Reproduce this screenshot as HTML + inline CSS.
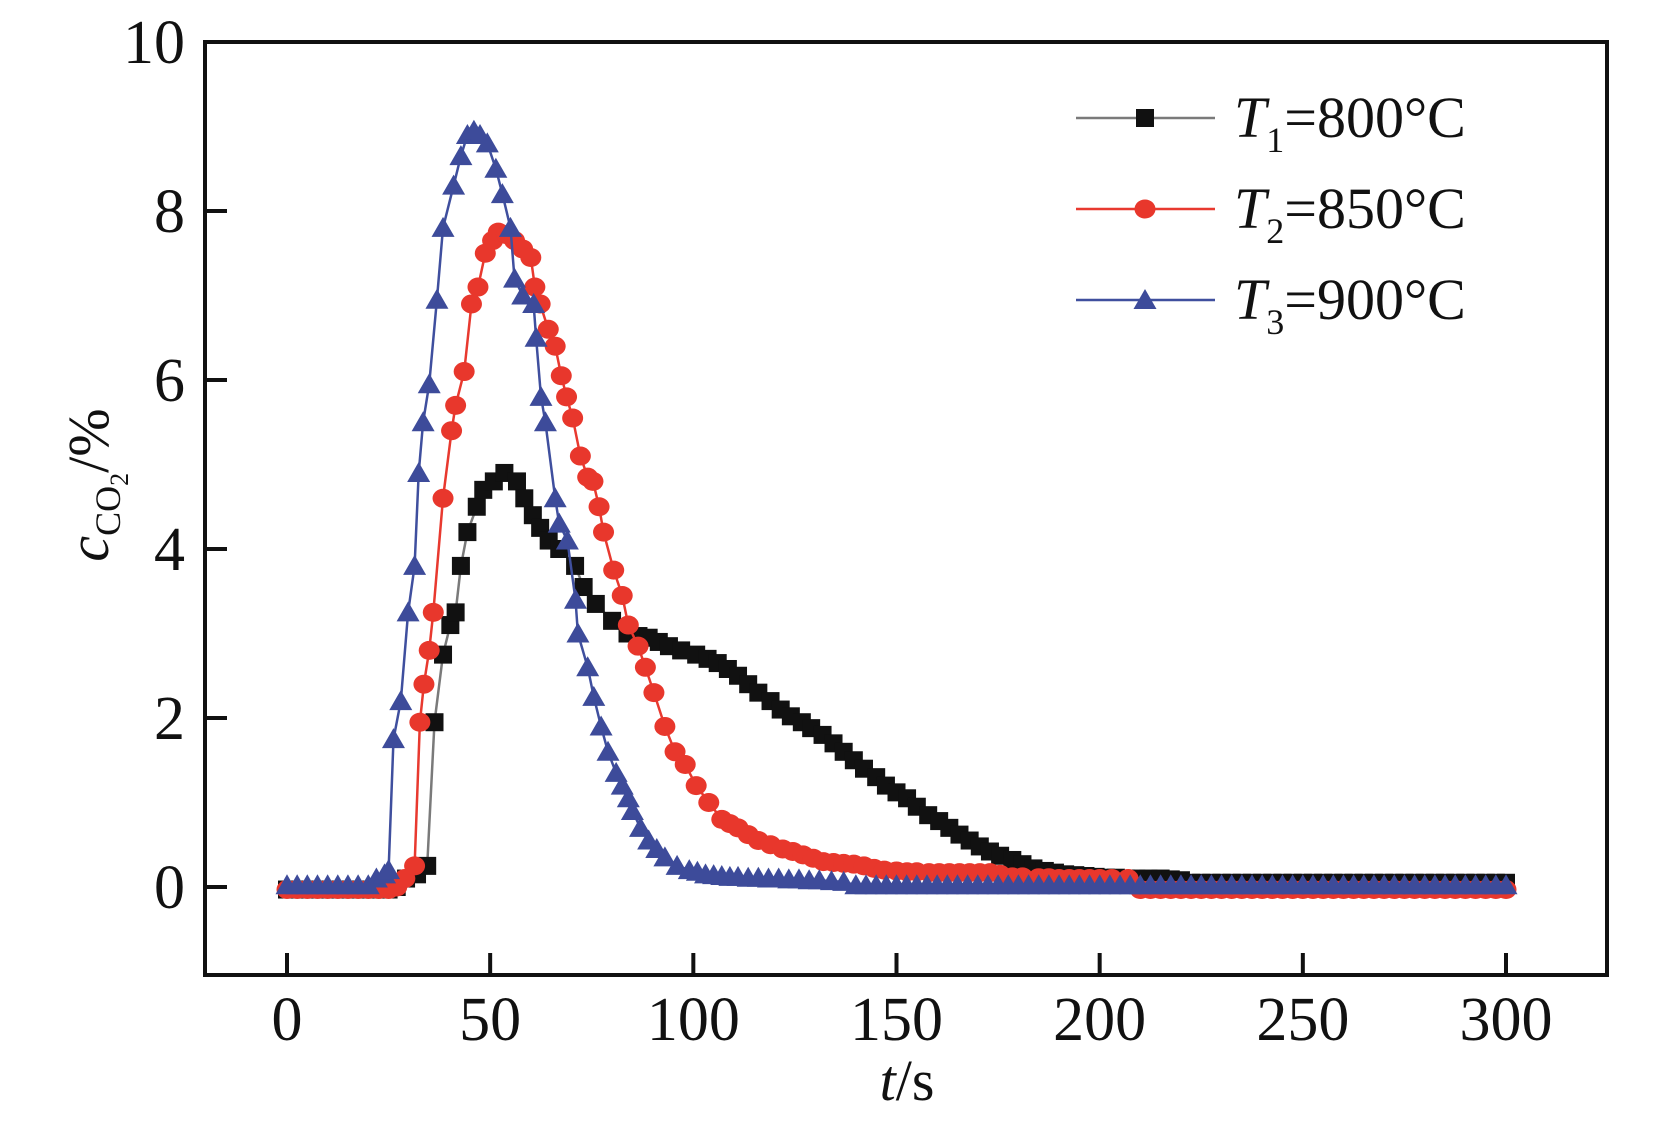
<!DOCTYPE html>
<html><head><meta charset="utf-8">
<style>
html,body{margin:0;padding:0;background:#fff;}
svg{display:block;font-family:"Liberation Serif",serif;}
</style></head>
<body>
<svg id="chart" width="1654" height="1148" viewBox="0 0 1654 1148" xmlns="http://www.w3.org/2000/svg">
<rect x="0" y="0" width="1654" height="1148" fill="#fff"/>
<g id="marks"></g>
<rect x="205" y="42" width="1402" height="933" fill="none" stroke="#111" stroke-width="4"/>
<g id="axes"></g>
<text x="907" y="1100" font-size="58" text-anchor="middle" fill="#111"><tspan font-style="italic">t</tspan>/s</text>
<text transform="translate(108,485) rotate(-90)" font-size="58" text-anchor="middle" fill="#111"><tspan font-style="italic">c</tspan><tspan font-size="36" dy="12">CO</tspan><tspan font-size="26" dy="8">2</tspan><tspan dy="-20">/%</tspan></text>
<g id="legend"></g>
</svg>
<script>
const xTicks=[0,50,100,150,200,250,300];
const yTicks=[0,2,4,6,8,10];
const t1Times=[0,2.5,5,7.5,10,12.5,15,17.5,20,22.5,25,27,29.3,32,34.5,36.3,38.4,40.2,41.5,42.8,44.4,46.7,48.3,50.9,53.5,56.6,58.4,60.5,62.3,64.4,67,70.9,73,76,80,83.8,86.5,89,91.5,94,97,100.7,103.5,106,108.5,111,113.5,116,119,121.5,124,126.7,129,131.8,134.5,137,139.5,142,145,147.4,150,152.6,155,157.8,160.5,163,165.5,168,170.5,173,175.5,178.5,181,183.7,186.5,189,191.5,194,196.5,199,201.5,204,206.5,209,212,215,217.5,220,222.5,225,227.5,230,232.5,235,237.5,240,242.5,245,247.5,250,252.5,255,257.5,260,262.5,265,267.5,270,272.5,275,277.5,280,282.5,285,287.5,290,292.5,295,297.5,300];
const t1Values=[-0.03,-0.03,-0.03,-0.03,-0.03,-0.03,-0.03,-0.03,-0.03,-0.03,-0.03,0.0,0.1,0.15,0.25,1.95,2.75,3.1,3.25,3.8,4.2,4.5,4.7,4.8,4.9,4.8,4.6,4.4,4.25,4.1,4.0,3.8,3.55,3.35,3.15,3.0,2.97,2.95,2.9,2.85,2.8,2.75,2.7,2.65,2.58,2.5,2.4,2.3,2.2,2.1,2.02,1.95,1.88,1.8,1.7,1.6,1.5,1.4,1.3,1.2,1.12,1.05,0.95,0.85,0.78,0.7,0.62,0.55,0.48,0.42,0.37,0.32,0.27,0.22,0.19,0.17,0.15,0.14,0.13,0.12,0.11,0.11,0.1,0.1,0.1,0.1,0.09,0.08,0.05,0.05,0.05,0.05,0.05,0.05,0.05,0.05,0.05,0.05,0.05,0.05,0.05,0.05,0.05,0.05,0.05,0.05,0.05,0.05,0.05,0.05,0.05,0.05,0.05,0.05,0.05,0.05,0.05,0.05,0.05,0.05];
const t2Times=[0,2.5,5,7.5,10,12.5,15,17.5,20,22.5,25,27,29,31.4,32.7,33.7,35,36,38.4,40.5,41.5,43.6,45.4,47,48.8,50.6,52,54,56,58,60,61,62.3,64.3,66,67.5,68.8,70.3,72.2,74,75.3,76.8,77.9,80.4,82.5,84,86.4,88.2,90.3,93,95.5,98,100.7,103.8,107,109,111,113.5,116,119,122,124.5,127,129.5,132,134.5,137,139.5,142,144.5,147,150,152.6,155,158,160.5,163,165.5,168,170.5,173,175.5,178.5,181,185,187.5,190,192.5,195,197.5,200,203,207,210,212.5,215,217.5,220,222.5,225,227.5,230,232.5,235,237.5,240,242.5,245,247.5,250,252.5,255,257.5,260,262.5,265,267.5,270,272.5,275,277.5,280,282.5,285,287.5,290,292.5,295,297.5,300];
const t2Values=[-0.03,-0.03,-0.03,-0.03,-0.03,-0.03,-0.03,-0.03,-0.03,-0.03,-0.03,0.0,0.1,0.25,1.95,2.4,2.8,3.25,4.6,5.4,5.7,6.1,6.9,7.1,7.5,7.65,7.75,7.72,7.65,7.55,7.45,7.1,6.9,6.6,6.4,6.05,5.8,5.55,5.1,4.85,4.8,4.5,4.2,3.75,3.45,3.1,2.85,2.6,2.3,1.9,1.6,1.45,1.2,1.0,0.8,0.75,0.7,0.62,0.55,0.5,0.45,0.42,0.38,0.34,0.3,0.29,0.28,0.27,0.25,0.22,0.2,0.19,0.18,0.18,0.17,0.17,0.17,0.17,0.17,0.17,0.17,0.15,0.12,0.12,0.11,0.11,0.1,0.1,0.1,0.1,0.1,0.1,0.1,-0.03,-0.03,-0.03,-0.03,-0.03,-0.03,-0.03,-0.03,-0.03,-0.03,-0.03,-0.03,-0.03,-0.03,-0.03,-0.03,-0.03,-0.03,-0.03,-0.03,-0.03,-0.03,-0.03,-0.03,-0.03,-0.03,-0.03,-0.03,-0.03,-0.03,-0.03,-0.03,-0.03,-0.03,-0.03,-0.03,-0.03,-0.03];
const t3Times=[0,2.5,5,7.5,10,12.5,15,17.5,20,22,24,25,26.2,28,29.8,31.4,32.4,33.5,35,36.9,38.4,41,42.8,44.4,46,47.5,49.3,51.4,53,55,56,58,60.7,61.3,62.5,63.6,66,67,69,71,71.6,74,75.5,77.3,79,81,82.5,84,85,87,89,91,93,96,99,101,103,105,107,109,111,113.5,116,118.5,121,123.5,126,128.5,131,134,137,140,142.5,145,147.5,150,152.5,155,157.5,160,162.5,165,167.5,170,172.5,175,177.5,180,182.5,185,187.5,190,192.5,195,197.5,200,202.5,205,207.5,210,212.5,215,217.5,220,222.5,225,227.5,230,232.5,235,237.5,240,242.5,245,247.5,250,252.5,255,257.5,260,262.5,265,267.5,270,272.5,275,277.5,280,282.5,285,287.5,290,292.5,295,297.5,300];
const t3Values=[0.02,0.02,0.02,0.02,0.02,0.02,0.02,0.02,0.02,0.1,0.15,0.2,1.75,2.2,3.25,3.8,4.9,5.5,5.95,6.95,7.8,8.3,8.65,8.9,8.95,8.9,8.8,8.5,8.2,7.8,7.2,7.0,6.9,6.5,5.8,5.5,4.6,4.3,4.1,3.4,3.0,2.6,2.25,1.9,1.6,1.35,1.2,1.05,0.9,0.7,0.55,0.45,0.35,0.25,0.2,0.18,0.15,0.14,0.13,0.12,0.12,0.11,0.11,0.1,0.1,0.09,0.09,0.08,0.08,0.07,0.06,0.02,0.02,0.02,0.02,0.02,0.02,0.02,0.02,0.02,0.02,0.02,0.02,0.02,0.02,0.02,0.02,0.02,0.02,0.02,0.02,0.02,0.02,0.02,0.02,0.02,0.02,0.02,0.02,0.02,0.02,0.02,0.02,0.02,0.02,0.02,0.02,0.02,0.02,0.02,0.02,0.02,0.02,0.02,0.02,0.02,0.02,0.02,0.02,0.02,0.02,0.02,0.02,0.02,0.02,0.02,0.02,0.02,0.02,0.02,0.02,0.02,0.02,0.02,0.02,0.02,0.02];

const NS="http://www.w3.org/2000/svg";
function xs(t){return 287+t*(1506-287)/300;}
function ys(v){return 887-v*84.5;}
function mk(tag,attrs,parent){const e=document.createElementNS(NS,tag);for(const k in attrs)e.setAttribute(k,attrs[k]);parent.appendChild(e);return e;}
const marks=document.getElementById('marks');
const axes=document.getElementById('axes');
const legend=document.getElementById('legend');

function marker(shape,cx,cy,color,parent){
  let e;
  if(shape==='square'){e=mk('rect',{x:cx-9,y:cy-9,width:18,height:18,fill:color},parent);}
  else if(shape==='circle'){e=mk('ellipse',{cx:cx,cy:cy,rx:10.5,ry:9.5,fill:color},parent);}
  else {e=mk('polygon',{points:(cx)+','+(cy-11)+' '+(cx-11.5)+','+(cy+9)+' '+(cx+11.5)+','+(cy+9),fill:color},parent);}
  return e;
}
function drawSeries(times,values,lineColor,markColor,shape,name){
  const g=mk('g',{},marks);
  
  
  const pts=times.map((t,i)=>xs(t).toFixed(1)+','+ys(values[i]).toFixed(1)).join(' ');
  const pl=mk('polyline',{points:pts,fill:'none',stroke:lineColor,'stroke-width':2.5},g);
  
  
  times.forEach((t,i)=>{
    const m=marker(shape,xs(t),ys(values[i]),markColor,g);
    
    
  });
}
drawSeries(t1Times,t1Values,'#7a7a7a','#111','square','series-t1-800c');
drawSeries(t2Times,t2Values,'#e8392f','#e8372c','circle','series-t2-850c');
drawSeries(t3Times,t3Values,'#3f4f9e','#3d4b9a','triangle','series-t3-900c');

xTicks.forEach(v=>{
  const l=mk('line',{x1:xs(v),x2:xs(v),y1:975,y2:953,stroke:'#111','stroke-width':4},axes);
  
  
  const tx=mk('text',{x:xs(v),y:1040,'font-size':62,'text-anchor':'middle',fill:'#111'},axes);
  
  
  tx.textContent=v;
});
yTicks.forEach(v=>{
  const l=mk('line',{x1:205,x2:227,y1:ys(v),y2:ys(v),stroke:'#111','stroke-width':4},axes);
  
  
  const tx=mk('text',{x:185,y:ys(v)+21,'font-size':62,'text-anchor':'end',fill:'#111'},axes);
  
  
  tx.textContent=v;
});

const legendLabels=[['1','800'],['2','850'],['3','900']];
const legendStyles=[['#7a7a7a','#111','square'],['#e8392f','#e8372c','circle'],['#3f4f9e','#3d4b9a','triangle']];
legendLabels.forEach((lab,i)=>{
  const y=118+i*91;
  const g=mk('g',{},legend);
  
  
  mk('line',{x1:1076,x2:1215,y1:y,y2:y,stroke:legendStyles[i][0],'stroke-width':2.5},g);
  marker(legendStyles[i][2],1145,y,legendStyles[i][1],g);
  const tx=mk('text',{x:1234,y:y+19,'font-size':58,fill:'#111'},g);
  tx.innerHTML='<tspan font-style="italic">T</tspan><tspan font-size="36" dy="15">'+lab[0]+'</tspan><tspan dy="-15">='+lab[1]+'°C</tspan>';
});
</script>
</body></html>
